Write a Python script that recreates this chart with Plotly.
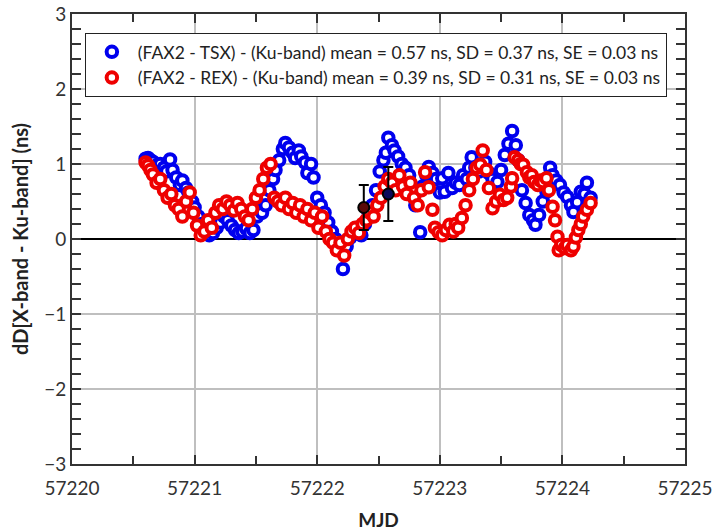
import plotly.graph_objects as go

# FAX2 - TSX (blue)
tsx_mjd = [57220.60, 57220.62, 57220.64, 57220.66, 57220.69, 57220.72, 57220.75, 57220.77, 57220.80, 57220.82,
           57220.85, 57220.88, 57220.90, 57220.93, 57220.95, 57220.98, 57221.00, 57221.03, 57221.06, 57221.09,
           57221.12, 57221.15, 57221.18, 57221.21, 57221.24, 57221.27, 57221.30, 57221.33, 57221.36, 57221.39,
           57221.42, 57221.45, 57221.48, 57221.51, 57221.53, 57221.55, 57221.58, 57221.61, 57221.64, 57221.66,
           57221.69, 57221.72, 57221.74, 57221.77, 57221.80, 57221.82, 57221.85, 57221.87, 57221.90, 57221.92,
           57221.95, 57221.97, 57222.00, 57222.03, 57222.06, 57222.09, 57222.12, 57222.15, 57222.18, 57222.21,
           57222.24, 57222.27, 57222.30, 57222.33, 57222.36, 57222.39, 57222.42, 57222.45, 57222.48, 57222.51,
           57222.54, 57222.56, 57222.58, 57222.61, 57222.63, 57222.66, 57222.69, 57222.72, 57222.75, 57222.78,
           57222.80, 57222.84, 57222.86, 57222.89, 57222.91, 57222.94, 57222.97, 57223.00, 57223.02, 57223.04,
           57223.07, 57223.10, 57223.13, 57223.16, 57223.19, 57223.22, 57223.24, 57223.26, 57223.29, 57223.32,
           57223.35, 57223.37, 57223.40, 57223.43, 57223.47, 57223.50, 57223.53, 57223.56, 57223.59, 57223.62,
           57223.64, 57223.67, 57223.70, 57223.73, 57223.76, 57223.78, 57223.81, 57223.84, 57223.87, 57223.90,
           57223.92, 57223.95, 57223.98, 57224.01, 57224.04, 57224.07, 57224.09, 57224.12, 57224.15, 57224.18,
           57224.20, 57224.23]
tsx_dd = [1.07, 1.08, 1.05, 1.03, 0.98, 1.00, 0.95, 0.90, 1.06, 0.92,
          0.82, 0.72, 0.78, 0.68, 0.62, 0.50, 0.42, 0.30, 0.20, 0.10,
          0.05, 0.08, 0.15, 0.22, 0.30, 0.25, 0.18, 0.12, 0.08, 0.10,
          0.14, 0.08, 0.12, 0.30, 0.40, 0.35, 0.45, 0.65, 0.80, 0.92,
          1.05, 1.20, 1.28, 1.22, 1.15, 1.08, 1.18, 1.10, 1.02, 0.88,
          1.00, 0.82, 0.55, 0.45, 0.35, 0.22, 0.10, 0.00, -0.15, -0.40,
          -0.10, 0.02, 0.10, 0.15, 0.05, 0.20, 0.35, 0.45, 0.65, 0.90,
          1.05, 1.15, 1.35, 1.25, 1.18, 1.10, 1.00, 0.95, 0.85, 0.65,
          0.45, 0.09, 0.70, 0.85, 0.96, 0.88, 0.80, 0.62, 0.81, 0.63,
          0.88, 0.68, 0.75, 0.72, 0.85, 0.80, 0.95, 1.09, 0.95, 0.90,
          1.00, 1.03, 0.88, 0.80, 0.76, 0.92, 1.12, 1.27, 1.44, 1.25,
          1.05, 0.65, 0.48, 0.32, 0.25, 0.19, 0.32, 0.50, 0.63, 0.95,
          0.85, 0.78, 0.72, 0.62, 0.56, 0.45, 0.36, 0.49, 0.63, 0.60,
          0.75, 0.55]

# FAX2 - REX (red)
rex_mjd = [57220.60, 57220.62, 57220.64, 57220.66, 57220.69, 57220.72, 57220.75, 57220.78, 57220.81, 57220.84,
           57220.87, 57220.90, 57220.93, 57220.96, 57220.99, 57221.02, 57221.05, 57221.08, 57221.11, 57221.14,
           57221.17, 57221.20, 57221.23, 57221.26, 57221.29, 57221.32, 57221.35, 57221.38, 57221.41, 57221.44,
           57221.47, 57221.50, 57221.53, 57221.56, 57221.59, 57221.62, 57221.65, 57221.68, 57221.71, 57221.74,
           57221.77, 57221.80, 57221.83, 57221.86, 57221.89, 57221.92, 57221.95, 57221.98, 57222.01, 57222.04,
           57222.07, 57222.10, 57222.13, 57222.16, 57222.19, 57222.22, 57222.25, 57222.28, 57222.31, 57222.34,
           57222.37, 57222.40, 57222.43, 57222.46, 57222.49, 57222.52, 57222.55, 57222.58, 57222.61, 57222.64,
           57222.67, 57222.70, 57222.73, 57222.76, 57222.79, 57222.82, 57222.85, 57222.88, 57222.91, 57222.94,
           57222.96, 57222.99, 57223.02, 57223.05, 57223.08, 57223.11, 57223.13, 57223.15, 57223.18, 57223.21,
           57223.24, 57223.27, 57223.30, 57223.33, 57223.35, 57223.38, 57223.40, 57223.43, 57223.46, 57223.49,
           57223.52, 57223.55, 57223.58, 57223.59, 57223.61, 57223.64, 57223.66, 57223.68, 57223.71, 57223.73,
           57223.75, 57223.77, 57223.80, 57223.82, 57223.84, 57223.87, 57223.89, 57223.92, 57223.94, 57223.96,
           57223.97, 57223.99, 57224.02, 57224.04, 57224.07, 57224.09, 57224.11, 57224.13, 57224.15, 57224.17,
           57224.20, 57224.23]
rex_dd = [1.02, 0.98, 0.92, 0.86, 0.75, 0.80, 0.65, 0.55, 0.60, 0.45,
          0.40, 0.30, 0.50, 0.62, 0.35, 0.18, 0.05, 0.10, 0.25, 0.15,
          0.35, 0.45, 0.40, 0.50, 0.45, 0.38, 0.48, 0.40, 0.30, 0.25,
          0.40, 0.55, 0.65, 0.80, 0.95, 1.00, 0.55, 0.50, 0.45, 0.55,
          0.40, 0.48, 0.35, 0.45, 0.30, 0.40, 0.25, 0.35, 0.15, 0.30,
          0.10, 0.00, -0.05, -0.15, -0.05, -0.22, 0.00, 0.10, 0.15, 0.08,
          0.20, 0.25, 0.35, 0.30, 0.45, 0.55, 0.70, 0.80, 0.75, 0.65,
          0.85, 0.70, 0.60, 0.75, 0.55, 0.45, 0.65, 0.89, 0.69, 0.39,
          0.15, 0.09, 0.05, 0.12, 0.19, 0.10, 0.20, 0.15, 0.28, 0.45,
          0.65, 0.80, 0.95, 0.99, 1.18, 0.92, 0.68, 0.41, 0.50, 0.59,
          0.52, 0.55, 0.70, 0.81, 1.09, 1.05, 1.00, 0.99, 0.89, 0.82,
          0.85, 0.76, 0.72, 0.78, 0.76, 0.81, 0.65, 0.43, 0.25, 0.03,
          -0.15, -0.08, -0.12, -0.08, -0.15, -0.10, 0.02, 0.12, 0.20, 0.30,
          0.39, 0.48]

# Reference points with error bars
ref_mjd = [57222.38, 57222.58]
ref_dd = [0.42, 0.60]
ref_err = [0.30, 0.36]
ref_fill = ["#5a0a0a", "#0a0a5a"]

tsx_name = "(FAX2 - TSX) - (Ku-band) mean = 0.57 ns, SD = 0.37 ns, SE = 0.03 ns"
rex_name = "(FAX2 - REX) - (Ku-band) mean = 0.39 ns, SD = 0.31 ns, SE = 0.03 ns"

x_ticks = [57220, 57221, 57222, 57223, 57224, 57225]
y_ticks = [-3, -2, -1, 0, 1, 2, 3]

fig = go.Figure()
fig.add_trace(go.Scatter(
    x=tsx_mjd, y=tsx_dd, mode="markers", name=tsx_name,
    marker=dict(symbol="circle", size=10.5, color="white", line=dict(color="#0000ee", width=4)),
))
fig.add_trace(go.Scatter(
    x=rex_mjd, y=rex_dd, mode="markers", name=rex_name,
    marker=dict(symbol="circle", size=10.5, color="white", line=dict(color="#ee0000", width=4)),
))
fig.add_trace(go.Scatter(
    x=ref_mjd, y=ref_dd, mode="markers", showlegend=False,
    marker=dict(symbol="circle", size=11, color=ref_fill, line=dict(color="black", width=2)),
    error_y=dict(type="data", array=ref_err, color="black", thickness=2, width=5),
))

font_family = "Lato, Open Sans, sans-serif"
axis_common = dict(
    showline=True, linecolor="#333333", linewidth=2, mirror="ticks",
    ticks="inside", ticklen=9, tickcolor="#333333", tickwidth=1.5,
    showgrid=True, gridcolor="#bfbfbf", gridwidth=1.5,
    tickfont=dict(family=font_family, size=19, color="#333333"),
    automargin=False, ticklabeloverflow="allow",
)
fig.update_layout(
    width=714, height=532,
    margin=dict(l=72, r=29, t=14, b=68),
    paper_bgcolor="white", plot_bgcolor="white",
    font=dict(family=font_family, color="#222222"),
    xaxis=dict(range=[57220, 57225], tickvals=x_ticks, ticktext=[str(v) for v in x_ticks],
               minor=dict(dtick=0.5, ticks="inside", ticklen=8, tickcolor="#333333", showgrid=False),
               title=dict(text="<b>MJD</b>", font=dict(family=font_family, size=19), standoff=16),
               ticklabelstandoff=6, zeroline=False,
               **axis_common),
    yaxis=dict(range=[-3, 3], tickvals=y_ticks,
               minor=dict(dtick=0.2, ticks="inside", ticklen=9, tickcolor="#333333", showgrid=False),
               title=dict(text="<b>dD[X-band - Ku-band] (ns)</b>", font=dict(family=font_family, size=20), standoff=10),
               zeroline=True, zerolinecolor="black", zerolinewidth=1.5,
               **axis_common),
    legend=dict(x=0.021, y=0.958, xanchor="left", yanchor="top",
                bordercolor="#222222", borderwidth=1, bgcolor="white",
                font=dict(family=font_family, size=17.5, color="#222222"),
                itemwidth=42, tracegroupgap=0),
    showlegend=True,
)

fig.write_html("out.html", config={"displayModeBar": False},
               post_script="document.body.style.margin='0';")
